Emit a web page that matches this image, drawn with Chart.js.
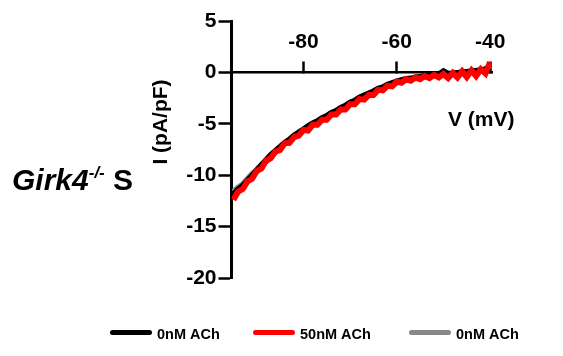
<!DOCTYPE html>
<html>
<head>
<meta charset="utf-8">
<script src="https://cdn.jsdelivr.net/npm/chart.js@4"></script>
<style>
  body { margin: 0; background: #fff; }
  #wrap { width: 563px; height: 356px; }
</style>
</head>
<body>
<div id="wrap"><canvas id="ivChart" width="563" height="356"></canvas></div>
<script>
// ----------------------------
// DATA
// ----------------------------
const voltage = [-95, -94, -93, -92, -91, -90, -89, -88, -87, -86, -85, -84, -83, -82, -81,
    -80, -79, -78, -77, -76, -75, -74, -73, -72, -71, -70, -69, -68, -67, -66, -65, -64,
    -63, -62, -61, -60, -59, -58, -57, -56, -55, -54, -53, -52, -51, -50, -49, -48, -47,
    -46, -45, -44, -43, -42, -41, -40];

const control = [-11.9, -11.4, -11.05, -10.55, -10.05, -9.55, -9.05, -8.55, -8.05, -7.65,
    -7.25, -6.85, -6.55, -6.15, -5.85, -5.55, -5.25, -4.95, -4.75, -4.45, -4.25, -3.95,
    -3.75, -3.45, -3.25, -2.95, -2.75, -2.45, -2.25, -2.05, -1.85, -1.6, -1.45, -1.2, -1.05,
    -0.9, -0.75, -0.65, -0.6, -0.5, -0.45, -0.35, -0.3, -0.25, -0.2, 0.1, -0.15, -0.1, -0.05,
    0.0, 0.05, 0.1, 0.15, 0.2, 0.3, 0.5];

const ach50 = [-12.4, -11.6, -11.35, -10.6, -10.35, -9.6, -9.35, -8.6, -8.35, -7.7, -7.55,
    -6.9, -6.85, -6.3, -6.15, -5.6, -5.65, -5.1, -5.1, -4.6, -4.6, -4.1, -4.1, -3.6, -3.6,
    -3.1, -3.1, -2.6, -2.65, -2.2, -2.2, -1.7, -1.75, -1.3, -1.35, -0.9, -1.0, -0.65, -0.8,
    -0.5, -0.65, -0.35, -0.55, -0.25, -0.5, -0.15, -0.55, -0.05, -0.5, 0.1, -0.45, 0.2,
    -0.35, 0.3, -0.1, 1.0];

const washout = [-11.6, -11.2, -10.9, -10.4, -9.9, -9.5, -9.0, -8.6, -8.1, -7.7, -7.3,
    -6.9, -6.6, -6.2, -5.9, -5.6, -5.3, -5.0, -4.8, -4.5, -4.3, -4.0, -3.8, -3.5, -3.3,
    -3.0, -2.8, -2.5, -2.3, -2.1, -1.9, -1.65, -1.5, -1.3, -1.15, -1.0, -0.85, -0.75, -0.65,
    -0.55, -0.5, -0.4, -0.35, -0.3, -0.25, -0.2, -0.15, -0.1, -0.05, 0.0, 0.05, 0.1, 0.15,
    0.2, 0.3, 0.6];

const seriesLabels = ["0nM ACh", "50nM ACh", "0nM ACh"];
const seriesColors = ["#000000", "#ff0000", "#888888"];
const xTicks = [-80, -60, -40];
const yTicks = [5, 0, -5, -10, -15, -20];

const FONT = '"Liberation Sans", Arial, sans-serif';
Chart.defaults.font.family = FONT;
Chart.defaults.color = "#000";

function points(values){
    return voltage.map((v, i) => ({ x: v, y: values[i] }));
}

// ----------------------------
// EXTRA TEXT + LEGEND
// ----------------------------
const annotate = {
    id: "annotate",
    afterDraw(chart){
        const ctx = chart.ctx;
        ctx.save();
        ctx.fillStyle = "#000";

        // y title
        ctx.save();
        ctx.translate(161, 122);
        ctx.rotate(-Math.PI / 2);
        ctx.font = "bold 21px " + FONT;
        ctx.textAlign = "center";
        ctx.textBaseline = "middle";
        ctx.fillText("I (pA/pF)", 0, 0);
        ctx.restore();

        // x title
        ctx.font = "bold 21px " + FONT;
        ctx.textAlign = "left";
        ctx.textBaseline = "middle";
        ctx.fillText("V (mV)", 448, 120);

        // Girk4-/- S
        ctx.textBaseline = "alphabetic";
        ctx.font = "italic bold 30px " + FONT;
        ctx.fillText("Girk4", 12, 190);
        let x = 12 + ctx.measureText("Girk4").width;
        ctx.font = "italic bold 17px " + FONT;
        ctx.fillText("-/-", x, 178);
        x += ctx.measureText("-/-").width;
        ctx.font = "bold 30px " + FONT;
        ctx.fillText(" S", x, 190);

        // legend
        const starts = [110, 253, 409];
        chart.data.datasets.forEach((ds, i) => {
            const x0 = starts[i];
            ctx.strokeStyle = ds.borderColor;
            ctx.lineWidth = 5;
            ctx.lineCap = "round";
            ctx.beginPath();
            ctx.moveTo(x0 + 2.5, 332.5);
            ctx.lineTo(x0 + 39.5, 332.5);
            ctx.stroke();
            ctx.font = "bold 14.5px " + FONT;
            ctx.textBaseline = "middle";
            ctx.fillText(ds.label, x0 + 47, 335);
        });
        ctx.restore();
    }
};

// ----------------------------
// CHART
// ----------------------------
const ctx = document.getElementById("ivChart").getContext("2d");

const datasets = [control, ach50, washout].map((vals, i) => ({
    label: seriesLabels[i],
    data: points(vals),
    borderColor: seriesColors[i],
    backgroundColor: seriesColors[i],
    borderWidth: 6,
    pointRadius: 0,
    tension: 0,
    order: [1, 0, 2][i]
}));

new Chart(ctx, {
    type: "line",
    data: { datasets: datasets },
    options: {
        responsive: false,
        devicePixelRatio: 1,
        animation: false,
        layout: { padding: { left: 0, top: 21, right: 71, bottom: 78 } },
        plugins: {
            legend: { display: false },
            tooltip: { enabled: false }
        },
        scales: {
            x: {
                type: "linear",
                position: { y: 0 },
                min: -95.4,
                max: -39.6,
                afterBuildTicks: s => { s.ticks = xTicks.map(v => ({ value: v })); },
                grid: { drawOnChartArea: false, tickLength: -12, tickWidth: 2.5, tickColor: "#000" },
                border: { color: "#000", width: 2.5 },
                ticks: {
                    padding: -31,
                    autoSkip: false,
                    maxRotation: 0,
                    color: "#000",
                    font: { size: 21, weight: "bold" }
                }
            },
            y: {
                type: "linear",
                min: -20,
                max: 5,
                afterFit: s => { s.width = 231.5; },
                afterBuildTicks: s => { s.ticks = yTicks.map(v => ({ value: v })); },
                grid: { drawOnChartArea: false, tickLength: 13, tickWidth: 2.5, tickColor: "#000" },
                border: { color: "#000", width: 3 },
                ticks: {
                    padding: 2,
                    color: "#000",
                    font: { size: 21, weight: "bold" }
                }
            }
        }
    },
    plugins: [annotate]
});
</script>
</body>
</html>
